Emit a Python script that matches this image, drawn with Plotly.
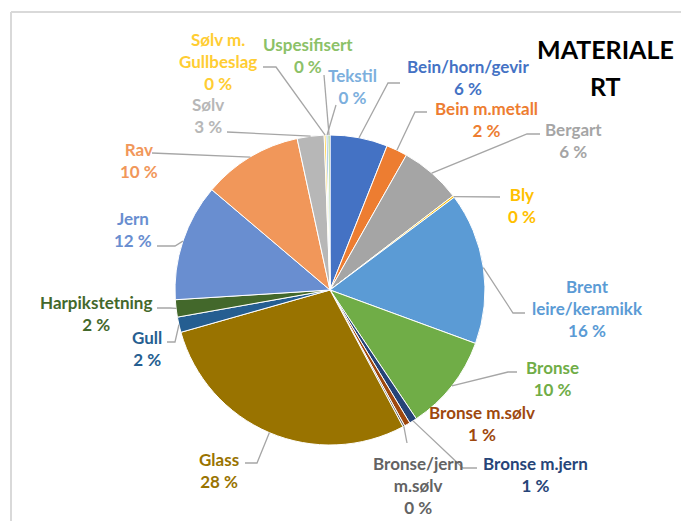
import math
import plotly.graph_objects as go

# Materiale, clockwise from 12 o'clock
categories = [
    "Bein/horn/gevir", "Bein m.metall", "Bergart", "Bly", "Brent leire/keramikk",
    "Bronse", "Bronse m.jern", "Bronse m.sølv", "Bronse/jern m.sølv", "Glass",
    "Gull", "Harpikstetning", "Jern", "Rav", "Sølv", "Sølv m. Gullbeslag",
    "Tekstil", "Uspesifisert",
]
counts = [30, 11, 32, 1, 79, 50, 4, 3, 1, 142, 8, 9, 61, 52, 14, 1, 1, 1]
title_lines = ["MATERIALE", "RT"]

colors = [
    "#4472C4", "#ED7D31", "#A5A5A5", "#FFC000", "#5B9BD5", "#70AD47",
    "#264478", "#9E480E", "#636363", "#997300", "#255E91", "#43682B",
    "#698ED0", "#F1975A", "#B7B7B7", "#FFCD33", "#7CAFDD", "#8CC168",
]

# wrapped label text as shown in the chart
wrapped = {
    "Brent leire/keramikk": "Brent<br>leire/keramikk",
    "Bronse/jern m.sølv": "Bronse/jern<br>m.sølv",
    "Sølv m. Gullbeslag": "Sølv m.<br>Gullbeslag",
}

W, H = 681, 521
CX, CY, R = 330, 290, 155  # pie centre and radius in pixels

# label centre (x, y), leader start (x, y), elbow x (None = straight)
label_layout = {
    "Bein/horn/gevir": (468, 78, 400, 83, 388),
    "Bein m.metall": (486, 120, 427, 112, 415),
    "Bergart": (573, 141, 540, 134, 527),
    "Bly": (522, 205, 500, 197, None),
    "Brent leire/keramikk": (587, 308, 525, 313, 513),
    "Bronse": (552, 378, 517, 372, 508),
    "Bronse m.jern": (535, 474, 477, 468, 463),
    "Bronse m.sølv": (482, 423, None, None, None),
    "Bronse/jern m.sølv": (418, 485, 407, 443, None),
    "Glass": (219, 470, 245, 463, 257),
    "Gull": (147, 348, 167, 342, 175),
    "Harpikstetning": (96, 313, 157, 308, 170),
    "Jern": (133, 229, 157, 246, 175),
    "Rav": (139, 160, 152, 153, None),
    "Sølv": (208, 115, 227, 132, None),
    "Sølv m. Gullbeslag": (218, 61, 263, 67, 276),
    "Uspesifisert": (308, 55, 324, 75, None),
    "Tekstil": (352, 86, 336, 105, None),
}

FONT = "Lato, 'Open Sans', sans-serif"


def px(x):
    return x / W


def py(y):
    return 1 - y / H


fig = go.Figure()
fig.add_trace(go.Pie(
    labels=categories,
    values=counts,
    sort=False,
    direction="clockwise",
    rotation=0,
    textinfo="none",
    marker=dict(colors=colors, line=dict(color="white", width=1)),
    domain=dict(x=[px(CX - R), px(CX + R)], y=[py(CY + R), py(CY - R)]),
    showlegend=False,
))

total = sum(counts)
annotations = []
shapes = []
cum = 0
for name, val, col in zip(categories, counts, colors):
    theta = 2 * math.pi * (cum + val / 2) / total
    cum += val
    ax = CX + R * math.sin(theta)
    ay = CY - R * math.cos(theta)
    lx, ly, sx, sy, ex = label_layout[name]
    pct = round(100 * val / total)
    annotations.append(dict(
        x=px(lx), y=py(ly), xref="paper", yref="paper",
        text=f"<b>{wrapped.get(name, name)}<br>{pct} %</b>",
        showarrow=False, xanchor="center", yanchor="middle", align="center",
        font=dict(family=FONT, size=17, color=col),
    ))
    if sx is None:
        continue
    pts = [(sx, sy)]
    if ex is not None:
        pts.append((ex, sy))
    pts.append((ax, ay))
    path = "M " + " L ".join(f"{px(x):.5f},{py(y):.5f}" for x, y in pts)
    shapes.append(dict(type="path", path=path, xref="paper", yref="paper",
                       line=dict(color="#A6A6A6", width=1.3)))

# title, wrapped in two lines
for txt, ty in zip(title_lines, [49, 86]):
    annotations.append(dict(
        x=px(605), y=py(ty), xref="paper", yref="paper", text=f"<b>{txt}</b>",
        showarrow=False, xanchor="center", yanchor="middle",
        font=dict(family=FONT, size=25, color="black"),
    ))

# chart area border (only top and left edge visible)
shapes.append(dict(type="line", xref="paper", yref="paper",
                   x0=px(11), y0=py(12), x1=1, y1=py(12),
                   line=dict(color="#D9D9D9", width=2)))
shapes.append(dict(type="line", xref="paper", yref="paper",
                   x0=px(11), y0=py(12), x1=px(11), y1=0,
                   line=dict(color="#D9D9D9", width=2)))

fig.update_layout(
    width=W, height=H,
    margin=dict(l=0, r=0, t=0, b=0),
    paper_bgcolor="white",
    plot_bgcolor="white",
    annotations=annotations,
    shapes=shapes,
)

fig.write_html("out.html", config={"displayModeBar": False},
               post_script="document.body.style.margin='0';")
